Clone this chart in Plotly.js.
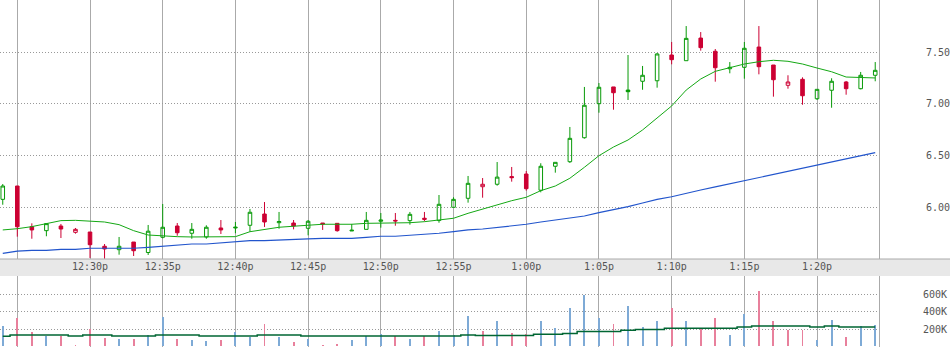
<!DOCTYPE html>
<html>
<head>
<meta charset="utf-8">
<script src="https://cdn.plot.ly/plotly-3.0.1.min.js"></script>
<style>html,body{margin:0;padding:0;background:#fff;}#chart{width:950px;height:347px;}</style>
</head>
<body>
<div id="chart"></div>
<script>
var day = '2024-01-02 ';
var times = ['12:24','12:25','12:26','12:27','12:28','12:29','12:30','12:31','12:32','12:33','12:34','12:35','12:36','12:37','12:38','12:39','12:40','12:41','12:42','12:43','12:44','12:45','12:46','12:47','12:48','12:49','12:50','12:51','12:52','12:53','12:54','12:55','12:56','12:57','12:58','12:59','13:00','13:01','13:02','13:03','13:04','13:05','13:06','13:07','13:08','13:09','13:10','13:11','13:12','13:13','13:14','13:15','13:16','13:17','13:18','13:19','13:20','13:21','13:22','13:23','13:24'];
var open = [6.075,6.204,5.810,5.772,5.817,5.756,5.759,5.621,5.588,5.662,5.561,5.708,5.817,5.747,5.711,5.798,5.798,5.824,5.933,5.849,5.846,5.795,5.846,5.843,5.769,5.785,5.863,5.872,5.869,5.892,5.870,5.998,6.085,6.197,6.221,6.295,6.320,6.163,6.395,6.439,6.671,7.000,7.162,7.132,7.217,7.222,7.471,7.416,7.635,7.507,7.338,7.352,7.548,7.374,7.178,7.236,7.048,7.130,7.210,7.145,7.275];
var high = [6.223,6.204,5.843,5.840,5.837,5.798,5.759,5.643,5.711,5.662,5.827,6.030,5.846,5.846,5.824,5.875,5.856,5.982,6.049,5.953,5.875,5.875,5.846,5.846,5.837,5.953,5.943,5.943,5.953,5.953,6.117,6.095,6.301,6.281,6.436,6.388,6.349,6.424,6.433,6.775,7.162,7.200,7.162,7.471,7.365,7.490,7.597,7.751,7.693,7.529,7.403,7.597,7.751,7.374,7.275,7.255,7.139,7.246,7.220,7.307,7.403];
var low = [6.023,5.714,5.694,5.718,5.701,5.743,5.508,5.500,5.540,5.527,5.537,5.698,5.723,5.694,5.694,5.740,5.747,5.762,5.808,5.791,5.785,5.727,5.779,5.762,5.769,5.785,5.801,5.820,5.830,5.863,5.849,5.998,6.043,6.091,6.207,6.246,6.159,6.143,6.333,6.427,6.662,6.913,6.942,7.036,7.135,7.155,7.381,7.416,7.513,7.213,7.294,7.242,7.284,7.068,7.145,6.990,7.036,6.961,7.087,7.139,7.217];
var close = [6.204,5.810,5.779,5.840,5.788,5.785,5.636,5.595,5.621,5.578,5.767,5.805,5.752,5.785,5.805,5.779,5.805,5.950,5.856,5.860,5.817,5.863,5.837,5.772,5.776,5.872,5.875,5.866,5.930,5.882,6.027,6.075,6.230,6.221,6.290,6.285,6.178,6.395,6.433,6.665,6.985,7.159,7.106,7.116,7.275,7.481,7.426,7.632,7.542,7.348,7.352,7.536,7.358,7.232,7.210,7.077,7.139,7.217,7.145,7.275,7.323];
var maShort = [5.779,5.791,5.811,5.843,5.869,5.872,5.866,5.856,5.830,5.772,5.730,5.721,5.714,5.711,5.711,5.711,5.714,5.762,5.785,5.805,5.815,5.824,5.834,5.834,5.834,5.843,5.843,5.846,5.849,5.859,5.872,5.892,5.940,5.982,6.027,6.062,6.095,6.159,6.204,6.279,6.385,6.497,6.581,6.649,6.746,6.859,6.978,7.132,7.239,7.313,7.352,7.384,7.406,7.420,7.410,7.384,7.345,7.309,7.258,7.255,7.249];
var maLong = [5.553,5.575,5.582,5.582,5.592,5.592,5.602,5.602,5.602,5.602,5.611,5.621,5.631,5.643,5.643,5.656,5.665,5.675,5.675,5.682,5.692,5.692,5.698,5.698,5.698,5.708,5.718,5.718,5.727,5.737,5.747,5.762,5.779,5.788,5.801,5.817,5.834,5.856,5.875,5.892,5.914,5.946,5.972,6.004,6.040,6.075,6.100,6.135,6.165,6.195,6.225,6.255,6.287,6.316,6.345,6.378,6.406,6.436,6.468,6.498,6.526];
var volume = [235,327,165,123,123,19,204,100,84,84,131,339,84,73,61,73,165,111,258,108,50,84,19,27,73,116,142,116,84,116,177,131,350,177,292,154,139,292,212,443,597,327,258,466,223,292,443,292,200,327,131,373,639,292,188,188,73,304,108,235,246];
var volAvg = [116,131,131,131,131,119,131,131,119,119,119,131,131,131,119,119,119,119,131,131,131,119,119,119,119,119,119,119,119,119,119,119,131,127,127,127,127,139,139,150,173,173,173,185,196,196,208,208,208,208,208,223,235,235,235,235,223,235,223,223,223];
var gridTimes = ['12:25','12:30','12:35','12:40','12:45','12:50','12:55','13:00','13:05','13:10','13:15','13:20'];
var gridLabels = ['','12:30p','12:35p','12:40p','12:45p','12:50p','12:55p','1:00p','1:05p','1:10p','1:15p','1:20p'];
var priceTicks = [6.0,6.5,7.0,7.5];
var priceLabels = ['6.00','6.50','7.00','7.50'];
var volTicks = [200,400,600];
var volLabels = ['200K','400K','600K'];

var GREEN = '#079a07', RED = '#cc0033', CLEAR = 'rgba(0,0,0,0)';
var X = times.map(function(t){return day + t;});
var up = close.map(function(c,i){return i === 0 || c >= close[i-1];});

function pick(arr, want){ return arr.filter(function(_,i){return up[i] === want;}); }
function candle(want, col){
  return {type:'candlestick', xaxis:'x', yaxis:'y', x:pick(X,want), open:pick(open,want), high:pick(high,want), low:pick(low,want), close:pick(close,want),
    increasing:{line:{color:col,width:1}, fillcolor:CLEAR},
    decreasing:{line:{color:col,width:1}, fillcolor:col},
    whiskerwidth:0, hoverinfo:'skip'};
}
var traces = [
  candle(true, GREEN),
  candle(false, RED),
  {type:'scatter', mode:'lines', x:X, y:maShort, xaxis:'x', yaxis:'y', line:{color:'#14a814', width:1}, hoverinfo:'skip'},
  {type:'scatter', mode:'lines', x:X, y:maLong, xaxis:'x', yaxis:'y', line:{color:'#2255cc', width:1.2}, hoverinfo:'skip'},
  {type:'bar', x:X, y:volume.map(function(v){return v*1000;}), xaxis:'x2', yaxis:'y2', width:8000,
    marker:{color:up.map(function(u){return u ? '#7eaad6' : '#e8809c';}), line:{width:0}}, hoverinfo:'skip'},
  {type:'scatter', mode:'lines', x:X, y:volAvg.map(function(v){return v*1000;}), xaxis:'x2', yaxis:'y2', line:{color:'#006633', width:1.5, shape:'hvh'}, hoverinfo:'skip'}
];

var xr = [day + '12:23:48.6', day + '13:24:15.6'];
var tickFont = {family:'DejaVu Sans Mono', size:10, color:'#555555'};
var priceBottom = 88/347, volTop = 71/347;
var layout = {
  width:950, height:347, margin:{l:0,r:0,t:0,b:0},
  paper_bgcolor:'#ffffff', plot_bgcolor:'#ffffff', showlegend:false,
  boxgap:0.65, bargap:0,
  xaxis:{type:'date', domain:[0,879/950], range:xr, anchor:'y', tickvals:gridTimes.map(function(t){return day+t;}), ticktext:gridLabels,
    showgrid:true, gridcolor:'#aaaaaa', gridwidth:1, ticks:'', tickfont:tickFont, zeroline:false, showline:false,
    rangeslider:{visible:false}, fixedrange:true, automargin:false},
  yaxis:{domain:[priceBottom,1], range:[5.498,8.003], anchor:'x', side:'right', tickvals:priceTicks, ticktext:priceLabels,
    showgrid:true, gridcolor:'#999999', griddash:'1px,2px', gridwidth:1, ticks:'', tickfont:tickFont, ticklabelstandoff:44,
    showline:true, linecolor:'#aaaaaa', linewidth:1, zeroline:false, fixedrange:true, automargin:false},
  xaxis2:{type:'date', domain:[0,879/950], range:xr, anchor:'y2', tickvals:gridTimes.map(function(t){return day+t;}),
    showticklabels:false, showgrid:true, gridcolor:'#aaaaaa', gridwidth:1, ticks:'', zeroline:false, showline:false, fixedrange:true, automargin:false},
  yaxis2:{domain:[0,volTop], range:[-7000,812000], anchor:'x2', side:'right', tickvals:volTicks.map(function(v){return v*1000;}), ticktext:volLabels,
    showgrid:true, gridcolor:'#999999', griddash:'1px,2px', gridwidth:1, ticks:'', tickfont:tickFont, ticklabelstandoff:41,
    showline:true, linecolor:'#aaaaaa', linewidth:1, zeroline:false, fixedrange:true, automargin:false},
  shapes:[
    {type:'rect', xref:'paper', yref:'paper', x0:0, x1:1, y0:volTop, y1:priceBottom, fillcolor:'#e8e8e8', line:{width:0}, layer:'below'},
    {type:'line', xref:'paper', yref:'paper', x0:0, x1:1, y0:priceBottom, y1:priceBottom, line:{color:'#aaaaaa', width:1}}
  ]
};
Plotly.newPlot('chart', traces, layout, {displayModeBar:false, staticPlot:true});
</script>
</body>
</html>
